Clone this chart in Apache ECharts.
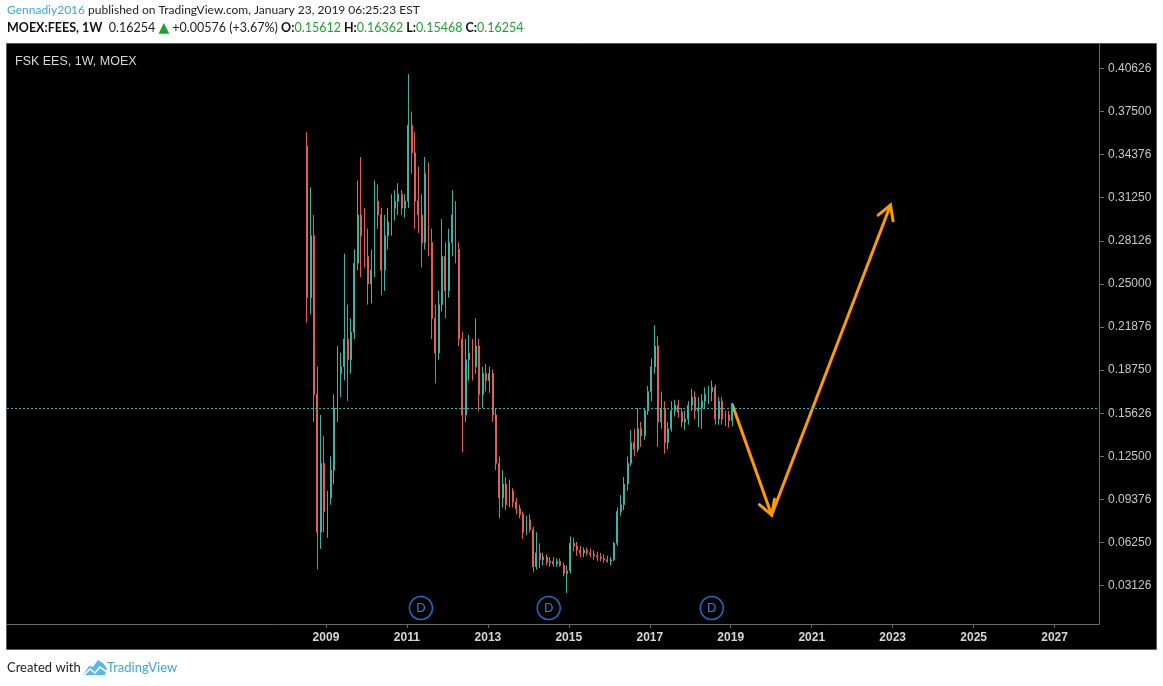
<!DOCTYPE html>
<html>
<head>
<meta charset="utf-8">
<title>FSK EES, 1W, MOEX</title>
<script src="https://cdn.jsdelivr.net/npm/echarts@6/dist/echarts.min.js"></script>
<style>
  html, body { margin: 0; padding: 0; background: #fff; }
  #main { width: 1163px; height: 686px; }
</style>
</head>
<body>
<div id="main"></div>
<script>
// monthly candles (Jul 2008 .. Jan 2019)
var months = [
  '2008-07-15','2008-08-15','2008-09-15','2008-10-15','2008-11-15','2008-12-15',
  '2009-01-15','2009-02-15','2009-03-15','2009-04-15','2009-05-15','2009-06-15','2009-07-15','2009-08-15','2009-09-15','2009-10-15','2009-11-15','2009-12-15',
  '2010-01-15','2010-02-15','2010-03-15','2010-04-15','2010-05-15','2010-06-15','2010-07-15','2010-08-15','2010-09-15','2010-10-15','2010-11-15','2010-12-15',
  '2011-01-15','2011-02-15','2011-03-15','2011-04-15','2011-05-15','2011-06-15','2011-07-15','2011-08-15','2011-09-15','2011-10-15','2011-11-15','2011-12-15',
  '2012-01-15','2012-02-15','2012-03-15','2012-04-15','2012-05-15','2012-06-15','2012-07-15','2012-08-15','2012-09-15','2012-10-15','2012-11-15','2012-12-15',
  '2013-01-15','2013-02-15','2013-03-15','2013-04-15','2013-05-15','2013-06-15','2013-07-15','2013-08-15','2013-09-15','2013-10-15','2013-11-15','2013-12-15',
  '2014-01-15','2014-02-15','2014-03-15','2014-04-15','2014-05-15','2014-06-15','2014-07-15','2014-08-15','2014-09-15','2014-10-15','2014-11-15','2014-12-15',
  '2015-01-15','2015-02-15','2015-03-15','2015-04-15','2015-05-15','2015-06-15','2015-07-15','2015-08-15','2015-09-15','2015-10-15','2015-11-15','2015-12-15',
  '2016-01-15','2016-02-15','2016-03-15','2016-04-15','2016-05-15','2016-06-15','2016-07-15','2016-08-15','2016-09-15','2016-10-15','2016-11-15','2016-12-15',
  '2017-01-15','2017-02-15','2017-03-15','2017-04-15','2017-05-15','2017-06-15','2017-07-15','2017-08-15','2017-09-15','2017-10-15','2017-11-15','2017-12-15',
  '2018-01-15','2018-02-15','2018-03-15','2018-04-15','2018-05-15','2018-06-15','2018-07-15','2018-08-15','2018-09-15','2018-10-15','2018-11-15','2018-12-15',
  '2019-01-15'
];
var opens = [
  0.350,0.240,0.285,0.170,0.070,0.120,
  0.085,0.095,0.115,0.160,0.185,0.190,0.210,0.195,0.215,0.265,0.300,0.285,
  0.270,0.250,0.260,0.310,0.300,0.260,0.285,0.295,0.305,0.310,0.315,0.305,
  0.310,0.365,0.345,0.310,0.300,0.280,0.330,0.280,0.225,0.200,0.235,0.270,
  0.245,0.280,0.300,0.275,0.210,0.155,0.195,0.200,0.190,0.205,0.170,0.185,
  0.180,0.185,0.155,0.120,0.095,0.105,0.090,0.100,0.092,0.087,0.083,0.070,
  0.079,0.072,0.045,0.055,0.050,0.052,0.048,0.049,0.047,0.049,0.046,0.040,
  0.042,0.062,0.060,0.057,0.055,0.057,0.055,0.054,0.053,0.052,0.051,0.050,
  0.049,0.050,0.062,0.085,0.090,0.105,0.120,0.135,0.130,0.145,0.140,0.158,
  0.172,0.190,0.205,0.150,0.160,0.135,0.145,0.158,0.162,0.157,0.150,0.152,
  0.162,0.168,0.158,0.160,0.165,0.170,0.172,0.175,0.152,0.165,0.152,0.155,
  0.151
];
var highs = [
  0.360,0.320,0.300,0.190,0.155,0.140,
  0.100,0.125,0.170,0.205,0.200,0.272,0.235,0.225,0.275,0.325,0.342,0.305,
  0.290,0.275,0.325,0.322,0.305,0.300,0.305,0.315,0.318,0.323,0.318,0.315,
  0.402,0.375,0.360,0.335,0.315,0.342,0.338,0.290,0.235,0.245,0.297,0.280,
  0.290,0.318,0.310,0.280,0.215,0.210,0.213,0.210,0.225,0.210,0.190,0.192,
  0.190,0.188,0.160,0.125,0.115,0.110,0.108,0.102,0.095,0.090,0.085,0.082,
  0.083,0.074,0.070,0.062,0.055,0.054,0.052,0.052,0.051,0.051,0.048,0.046,
  0.067,0.066,0.063,0.060,0.059,0.059,0.058,0.057,0.056,0.055,0.054,0.053,
  0.052,0.063,0.088,0.097,0.110,0.125,0.144,0.145,0.160,0.150,0.160,0.176,
  0.196,0.220,0.212,0.172,0.165,0.150,0.165,0.166,0.166,0.160,0.158,0.165,
  0.174,0.172,0.168,0.170,0.175,0.176,0.180,0.177,0.168,0.168,0.158,0.158,
  0.1636
];
var lows = [
  0.222,0.228,0.150,0.043,0.058,0.070,
  0.066,0.090,0.105,0.150,0.168,0.180,0.165,0.185,0.210,0.260,0.255,0.262,
  0.235,0.236,0.255,0.290,0.242,0.245,0.275,0.285,0.296,0.300,0.300,0.298,
  0.305,0.330,0.290,0.287,0.262,0.275,0.270,0.210,0.178,0.195,0.230,0.225,
  0.240,0.270,0.265,0.205,0.128,0.150,0.180,0.180,0.185,0.158,0.160,0.172,
  0.171,0.150,0.115,0.080,0.088,0.086,0.088,0.088,0.083,0.080,0.065,0.068,
  0.070,0.041,0.043,0.044,0.046,0.046,0.045,0.045,0.045,0.045,0.038,0.026,
  0.040,0.056,0.053,0.052,0.052,0.053,0.052,0.050,0.049,0.049,0.048,0.048,
  0.046,0.049,0.060,0.082,0.086,0.100,0.118,0.125,0.128,0.132,0.137,0.155,
  0.165,0.185,0.132,0.145,0.127,0.130,0.143,0.154,0.153,0.146,0.144,0.148,
  0.158,0.152,0.146,0.145,0.160,0.163,0.165,0.148,0.148,0.148,0.147,0.146,
  0.1468
];
var closes = [
  0.240,0.285,0.170,0.070,0.120,0.085,
  0.095,0.115,0.160,0.185,0.190,0.210,0.195,0.215,0.265,0.300,0.285,0.270,
  0.250,0.260,0.310,0.300,0.260,0.285,0.295,0.305,0.310,0.315,0.305,0.310,
  0.365,0.345,0.310,0.300,0.280,0.330,0.280,0.225,0.200,0.235,0.270,0.245,
  0.280,0.300,0.275,0.210,0.155,0.195,0.200,0.190,0.205,0.170,0.185,0.180,
  0.185,0.155,0.120,0.095,0.105,0.090,0.100,0.092,0.087,0.083,0.070,0.079,
  0.072,0.045,0.055,0.050,0.052,0.048,0.049,0.047,0.049,0.046,0.040,0.042,
  0.062,0.060,0.057,0.055,0.057,0.055,0.054,0.053,0.052,0.051,0.050,0.049,
  0.050,0.062,0.085,0.090,0.105,0.120,0.135,0.130,0.145,0.140,0.158,0.172,
  0.190,0.205,0.150,0.160,0.135,0.145,0.158,0.162,0.157,0.150,0.152,0.162,
  0.168,0.158,0.160,0.165,0.170,0.172,0.175,0.152,0.165,0.152,0.155,0.151,
  0.16254
];

// last weekly bar shown in the header: open, high, low, close
var lastBar = [0.15612, 0.16362, 0.15468, 0.16254];
var lastChange = '+0.00576';
var lastChangePct = '+3.67%';

var yTickValues = [0.03125, 0.0625, 0.09375, 0.125, 0.15625, 0.1875, 0.21875, 0.25, 0.28125, 0.3125, 0.34375, 0.375, 0.40625];
var yTickLabels = ['0.03126', '0.06250', '0.09376', '0.12500', '0.15626', '0.18750', '0.21876', '0.25000', '0.28126', '0.31250', '0.34376', '0.37500', '0.40626'];
var yearTicks = [2009, 2011, 2013, 2015, 2017, 2019, 2021, 2023, 2025, 2027];

var dividendDates = ['2011-05-08', '2014-07-04', '2018-07-14'];
var forecastPath = [['2019-01-15', 0.16254], ['2020-01-05', 0.0825], ['2022-12-13', 0.3072]];

var Y_MIN = 0.0035, Y_MAX = 0.4239;
var UP = '#3db3a4', DOWN = '#e35e57';

function ts(s) { var p = s.split('-'); return Date.UTC(+p[0], +p[1] - 1, +p[2]); }

var candles = months.map(function (m, i) {
  return [ts(m), opens[i], closes[i], lows[i], highs[i]];
});
var xTicks = yearTicks.map(function (y) { return Date.UTC(y, 0, 1); });
var segments = [];
for (var i = 1; i < forecastPath.length; i++) {
  segments.push([ts(forecastPath[i - 1][0]), forecastPath[i - 1][1], ts(forecastPath[i][0]), forecastPath[i][1]]);
}
var dividends = dividendDates.map(function (d) { return [ts(d), Y_MIN]; });

var headFont = 'Lato, "Noto Sans", sans-serif';
var headerLine1 = '{u|Gennadiy2016}{n| published on TradingView.com, January 23, 2019 06:25:23 EST}';
var headerLine2 =
  '{b|MOEX:FEES, 1W}{m|  ' + lastBar[3].toFixed(5) + ' }{t|▲}{m| ' + lastChange + ' (' + lastChangePct + ') }' +
  '{b|O:}{g|' + lastBar[0].toFixed(5) + '}{b| H:}{g|' + lastBar[1].toFixed(5) + '}' +
  '{b| L:}{g|' + lastBar[2].toFixed(5) + '}{b| C:}{g|' + lastBar[3].toFixed(5) + '}';

var myChart = echarts.init(document.getElementById('main'));
myChart.setOption({
  backgroundColor: '#ffffff',
  animation: false,
  grid: { left: 7, right: 64, top: 44, bottom: 62, containLabel: false },
  graphic: [
    {
      type: 'rect', z: -10, silent: true,
      shape: { x: 6.5, y: 43.5, width: 1150, height: 606 },
      style: { fill: '#000', stroke: '#5c5c5c', lineWidth: 1 }
    },
    {
      type: 'text', left: 7, top: 4,
      style: {
        text: headerLine1,
        rich: {
          u: { fill: '#3ba6df', fontSize: 12, fontFamily: headFont },
          n: { fill: '#222', fontSize: 12, fontFamily: headFont }
        }
      }
    },
    {
      type: 'text', left: 7, top: 21,
      style: {
        text: headerLine2,
        rich: {
          b: { fill: '#111', fontSize: 12.5, fontWeight: 'bold', fontFamily: headFont },
          m: { fill: '#222', fontSize: 12.5, fontFamily: headFont },
          t: { fill: '#1fa32d', fontSize: 14, fontFamily: '"DejaVu Sans", sans-serif' },
          g: { fill: '#1fa32d', fontSize: 12.5, fontFamily: headFont }
        }
      }
    },
    {
      type: 'text', left: 15, top: 55,
      style: { text: 'FSK EES, 1W, MOEX', fill: '#d8d8d8', font: '12.5px "Liberation Sans", Arial, sans-serif' }
    },
    {
      type: 'text', left: 7, top: 661,
      style: { text: 'Created with', fill: '#222', font: '13px ' + headFont }
    },
    {
      type: 'polygon', silent: true,
      shape: { points: [[83, 675], [89, 666], [93, 667], [98, 660], [104, 664], [107, 669], [105, 675]] },
      style: { fill: '#5ab7e8' }
    },
    {
      type: 'polyline', silent: true,
      shape: { points: [[84, 675], [90, 669], [95, 673], [100, 667], [107, 672]] },
      style: { stroke: '#fff', lineWidth: 1.6, fill: null }
    },
    {
      type: 'text', left: 107, top: 661,
      style: { text: 'TradingView', fill: '#3ba6df', font: '13px ' + headFont }
    }
  ],
  xAxis: {
    type: 'value',
    min: Date.UTC(2001, 1, 14),
    max: Date.UTC(2028, 1, 6),
    axisLine: { show: true, onZero: false, lineStyle: { color: '#6a6a6a' } },
    axisTick: { show: true, length: 4, customValues: xTicks, lineStyle: { color: '#6a6a6a' } },
    axisLabel: {
      customValues: xTicks,
      formatter: function (v) { return String(new Date(v).getUTCFullYear()); },
      color: '#d6d6d6', fontWeight: 'bold', fontSize: 12, margin: 8,
      fontFamily: '"Liberation Sans Narrow", "Liberation Sans", Arial, sans-serif'
    },
    splitLine: { show: false }
  },
  yAxis: {
    type: 'value',
    position: 'right',
    min: Y_MIN,
    max: Y_MAX,
    axisLine: { show: true, lineStyle: { color: '#6a6a6a' } },
    axisTick: { show: true, length: 5, customValues: yTickValues, lineStyle: { color: '#6a6a6a' } },
    axisLabel: {
      customValues: yTickValues,
      formatter: function (v) {
        for (var k = 0; k < yTickValues.length; k++) {
          if (Math.abs(yTickValues[k] - v) < 1e-6) return yTickLabels[k];
        }
        return '';
      },
      color: '#c8c8c8', fontSize: 12, margin: 9,
      fontFamily: '"Liberation Sans", Arial, sans-serif'
    },
    splitLine: { show: false }
  },
  series: [
    {
      type: 'candlestick',
      data: candles,
      barWidth: 1.4,
      itemStyle: { color: UP, color0: DOWN, borderColor: UP, borderColor0: DOWN, borderWidth: 1 },
      markLine: {
        silent: true,
        symbol: ['none', 'none'],
        label: { show: false },
        emphasis: { disabled: true },
        lineStyle: { color: '#2bb3a8', type: [2, 2], width: 1.2, opacity: 1 },
        data: [{ yAxis: lastBar[3] }]
      }
    },
    {
      type: 'custom',
      data: segments,
      encode: { x: [0, 2], y: [1, 3] },
      renderItem: function (params, api) {
        var a = api.coord([api.value(0), api.value(1)]);
        var b = api.coord([api.value(2), api.value(3)]);
        var ang = Math.atan2(a[1] - b[1], a[0] - b[0]);
        var L = 16, w = Math.PI / 6;
        var w1 = [b[0] + L * Math.cos(ang + w), b[1] + L * Math.sin(ang + w)];
        var w2 = [b[0] + L * Math.cos(ang - w), b[1] + L * Math.sin(ang - w)];
        return {
          type: 'group',
          children: [
            { type: 'line', shape: { x1: a[0], y1: a[1], x2: b[0], y2: b[1] }, style: { stroke: '#ff9a00', lineWidth: 3, lineCap: 'round' } },
            { type: 'polyline', shape: { points: [w1, b, w2] }, style: { stroke: '#ff9a00', lineWidth: 3, fill: null, lineCap: 'round' } }
          ]
        };
      }
    },
    {
      type: 'custom',
      data: dividends,
      encode: { x: 0, y: 1 },
      renderItem: function (params, api) {
        var p = api.coord([api.value(0), api.value(1)]);
        var cy = p[1] - 16;
        return {
          type: 'group',
          children: [
            { type: 'circle', shape: { cx: p[0], cy: cy, r: 11.5 }, style: { fill: null, stroke: '#1c6fc4', lineWidth: 1.5 } },
            { type: 'text', style: { text: 'D', x: p[0], y: cy, align: 'center', verticalAlign: 'middle', fill: '#2b82d9', font: '13px "Liberation Sans Narrow", "Liberation Sans", sans-serif' } }
          ]
        };
      }
    }
  ]
});
</script>
</body>
</html>
